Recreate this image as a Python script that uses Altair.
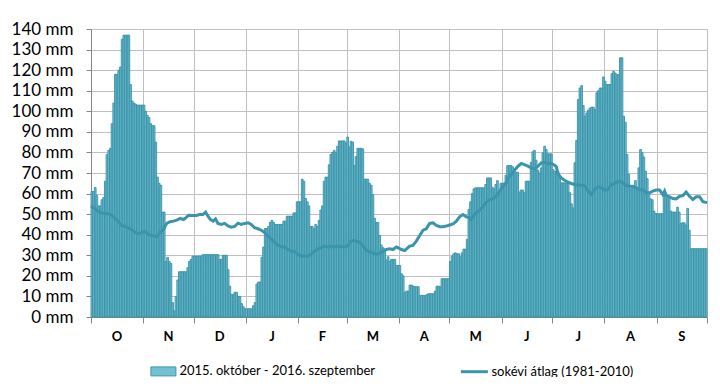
import altair as alt
import pandas as pd

# Daily values (mm), October 2015 - September 2016
oct_15 = [61, 61, 63, 59, 54, 54, 57, 58, 66, 79, 81, 82, 94, 104, 118, 118, 120, 121.5, 135, 137,
          137, 137, 137, 113, 105, 104, 103.5, 103, 103, 103, 103]
nov_15 = [103, 100, 98, 97, 94, 93, 93, 85, 68, 65, 64, 51, 51, 27, 29, 27, 26, 7, 3, 10,
          18, 22, 22, 22, 22, 22, 24, 27, 28, 29.6]
dec_15 = [29.6, 29.6, 29.6, 29.6, 29.6, 30.3, 30.3, 30.3, 30.3, 30.3, 30.3, 30.3, 30.3, 30.3, 30.3,
          28, 28, 30, 30, 30, 23, 15, 11, 11, 12, 12, 10, 10, 6.5, 5, 4]
jan_16 = [4, 4, 4, 4, 5.5, 7, 16, 17, 17, 29, 34, 43, 43, 44, 46, 47, 46, 45, 45, 45,
          45, 45, 46.6, 46.6, 49, 49, 49, 49, 50.6, 50.6, 56]
feb_16 = [56, 56, 67, 66, 57.6, 56, 54, 44, 44, 43, 45, 44, 47, 52, 54, 66, 68, 68, 74, 79,
          80, 81, 80, 83, 85.6, 85.6, 85.6, 85.6, 84.6]
mar_16 = [87.5, 82.7, 85.4, 85, 73.6, 78, 82, 82, 82, 81.7, 67, 67, 67, 65, 64, 59.5, 48, 46, 46, 39.6,
          35, 33.7, 33, 27.7, 29.3, 27, 28, 28, 28, 25, 25]
apr_16 = [25, 21, 20, 12, 12.6, 12.6, 15.5, 15.5, 15, 14.7, 14.7, 14.7, 10.5, 10.5, 10.5, 10.5, 10.8,
          11.3, 11.3, 11.3, 11.3, 12.6, 15, 15, 14.7, 18.6, 18.6, 18.6, 18.6, 18.6]
may_16 = [27, 29.6, 30.7, 31.2, 30.7, 30.7, 29.3, 31.2, 33, 33, 37.7, 52.3, 56, 60, 62.3, 62.8, 62.8,
          62.8, 62.8, 62.8, 62.8, 64.4, 67.6, 67.6, 67.6, 63, 62.3, 64.4, 66.3, 60.4, 65]
jun_16 = [65, 65.2, 68.8, 73.6, 73.6, 73.6, 73, 72, 70.4, 70.4, 60.7, 61.7, 61.7, 60.4, 66, 66, 66,
          75.2, 80.3, 81, 76.2, 71.4, 70, 72.5, 79.8, 83, 81.4, 79.3, 79.3, 79.3]
jul_16 = [71.7, 70.9, 70.9, 70.9, 67.6, 65.2, 65.2, 65.2, 65.2, 65.2, 60.4, 55, 53, 75, 85.8, 105.7,
          111.3, 112.5, 102.8, 97.6, 99.2, 100.5, 101.6, 102, 102, 100.8, 109, 110, 111.3, 111.3, 116.7]
aug_16 = [114.6, 113, 113, 113, 118.3, 119.4, 118.6, 117.8, 117.8, 126, 126, 97.6, 94.7, 79, 69.3,
          62.3, 63.6, 63.6, 66.3, 62, 72.5, 81.4, 80, 77.8, 70.9, 67.2, 60, 57.4, 57, 51.5, 50.3]
sep_16 = [50.2, 50.2, 50.2, 50.2, 59.5, 59, 59, 58.7, 51.5, 51, 51, 51, 53.4, 51, 45.5, 45.8, 45.8,
          44.7, 52.8, 42.2, 33.2, 33.2, 33.2, 33.2, 33.2, 33.2, 33.2, 33.2, 33.2, 33.2]

# Long-term average (1981-2010), read at day positions
avg_day = [0, 2, 4, 6, 9, 12, 14, 16, 18, 20, 22, 24, 26, 28, 30, 32, 34, 36, 38, 39, 41, 43, 45, 47,
           49, 51, 53, 55, 56, 58,
           60.6, 62.6, 64.5, 66.5, 68.1, 69.5, 70.9, 72.5, 74, 75.4, 77.4, 79.4, 81.4, 83.4, 85.3, 87.3,
           89.3, 91.3, 93.3, 95.2, 97.2, 99.2, 101.2, 103.2, 105.1, 107.1, 109.1, 111.1, 113.1, 115,
           117, 119, 121, 123,
           125, 127, 128.9, 130.9, 132.9, 134.9, 136.9, 138.8, 140.8, 142.8, 144.8, 146.8, 148.7, 150.7,
           152.7, 153.7, 155.7, 157.6, 159.6, 161.6, 163.6, 165.6, 167.5, 169.5, 171.5, 173.5, 175.5,
           177.4, 179.4, 181.4, 182.4, 184.4, 186.4,
           189.3, 191.3, 193.3, 195.3, 197.3, 199.2, 201.2, 203.2, 205.2, 207.2, 209.1, 211.1, 213.1,
           215.1, 217.1, 219, 221, 223, 225, 226, 227, 228.9, 230.9, 232.9, 234.9, 236.9, 238.8, 240.8,
           242.8, 244.8, 246.8,
           247.7, 249.7, 251.7, 253.7, 255.7, 257.6, 259.6, 261.6, 263.6, 265.6, 267.5, 269.5, 271.5,
           273.5, 275.5, 276.5, 277.4, 279.4, 281.4, 283.4, 285.4, 287.3, 289.3, 291.3, 293.3, 295.3,
           297.2, 299.2, 301.2, 303.2, 305.2, 307.2, 309.1,
           310.1, 312.1, 314, 316, 318, 320, 322, 323.9, 325.9, 327.9, 329.9, 331.9, 333.8, 335.8,
           337.8, 339.8, 340.8, 341.8, 343.7, 345.7, 347.7, 349.7, 351.7, 353.6, 355.6, 357.6, 359.6,
           361.6, 363.6, 366]
avg_val = [54, 53, 51.5, 50.6, 50.3, 49.8, 48.2, 46.6, 44.5, 44.2, 43.4, 42.5, 41.3, 40.5, 41, 41.7,
           40.1, 39.6, 39.3, 39, 41, 42.5, 45.5, 46.3, 46.6, 47.1, 47.9, 47.4, 48, 49.5,
           49.4, 49.4, 49.8, 49.8, 51, 49, 47.4, 46.6, 47.7, 45.5, 45, 45.5, 44.3, 43.7, 44, 45.6,
           45, 45.5, 45.8, 45, 43.4, 42.9, 42.2, 41, 39.3, 38, 36.4, 34.8, 34.1, 34,
           32.8, 32, 32, 30.4,
           29.6, 29.6, 29.6, 30.7, 32, 33.2, 33.7, 34.5, 34.1, 34.5, 34.1, 34.5, 34.1, 34.1,
           34.5, 36.4, 37.2, 36.9, 36.4, 34.5, 32.5, 31.6, 31.2, 30.4, 31, 32, 32.8,
           33.2, 32.8, 34, 33.7, 32.8, 32.3,
           34.5, 34.8, 36.9, 39.6, 42.2, 42.9, 45.5, 45.8, 44.5, 43.9, 43.9, 44.2, 44.7,
           45.2, 46.6, 48.7, 49.8, 48.7, 48.2, 47.4, 49, 50.6, 51.9, 53.6, 55.8, 57.1, 57.4, 58.7,
           61.2, 63.6, 65.2,
           67.6, 69.3, 71.4, 73.3, 74.6, 74.1, 73.3, 72.5, 72, 73.3, 74.9, 75.2, 74.6,
           74.6, 73.8, 73, 69.7, 67.6, 66.5, 65.5, 64.9, 64.4, 64.1, 64.1, 63.9, 61.2,
           59.5, 62, 63.3, 62.8, 61.7, 62, 64.4,
           64.4, 65.5, 66, 65.2, 63.9, 63.6, 63.6, 62.8, 62, 61.7, 60.4, 60.4, 61.2, 61.7,
           61.7, 59.5, 61.2, 59, 58.4, 57.6, 57.4, 58.7, 59, 60.7, 58.7, 57.1, 58.4,
           58.4, 56.1, 55.6]

month_start = [0, 31, 61, 92, 123, 152, 183, 213, 244, 274, 305, 336, 366]
month_labels = ["O", "N", "D", "J", "F", "M", "A", "M", "J", "J", "A", "S"]
y_ticks = list(range(0, 141, 10))

bar_label = "2015. október - 2016. szeptember"
line_label = "sokévi átlag (1981-2010)"

values = oct_15 + nov_15 + dec_15 + jan_16 + feb_16 + mar_16 + apr_16 + may_16 + jun_16 + jul_16 + aug_16 + sep_16
df = pd.DataFrame({"day": list(range(len(values))), "mm": values})
df["day_end"] = df["day"] + 1
df["s1"] = bar_label

df_avg = pd.DataFrame({"day": avg_day, "mm": avg_val})
df_avg["s2"] = line_label

df_months = pd.DataFrame({
    "mid": [(month_start[i] + month_start[i + 1]) / 2 for i in range(12)],
    "label": month_labels,
})

FONT = "Lato"
xscale = alt.Scale(domain=[0, 366], nice=False, zero=False)
yscale = alt.Scale(domain=[0, 140], nice=False)

x_axis = alt.Axis(values=month_start, labels=False, title=None, grid=True,
                  gridColor="#c0c0c0", tickSize=6, tickColor="#868686",
                  domainColor="#868686")
y_axis = alt.Axis(values=y_ticks, labelExpr="datum.value + ' mm'",
                  title=None, grid=True, gridColor="#c0c0c0", tickSize=5,
                  tickColor="#868686", domainColor="#868686", labelPadding=13,
                  labelOverlap=False,
                  labelFont=FONT, labelFontSize=17, labelColor="#000000")

bars = alt.Chart(df).mark_rect(stroke="#3891a6", strokeWidth=0.9).encode(
    x=alt.X("day:Q", scale=xscale, axis=x_axis),
    x2="day_end:Q",
    y=alt.Y("mm:Q", scale=yscale, axis=y_axis),
    y2=alt.datum(0),
    fill=alt.Fill("s1:N", scale=alt.Scale(domain=[bar_label], range=["#72c0d2"]),
                  legend=alt.Legend(title=None, orient="none", legendX=59.4, legendY=329.4,
                                    direction="horizontal", padding=0, labelLimit=400,
                                    symbolType="M-1,-0.36H1V0.36H-1Z", symbolSize=625,
                                    symbolFillColor="#80c4d4",
                                    symbolStrokeColor="#3f97ad", symbolStrokeWidth=1,
                                    labelFont=FONT, labelFontSize=13, labelColor="#000000",
                                    labelOffset=3)),
)

line = alt.Chart(df_avg).mark_line(strokeWidth=3).encode(
    x=alt.X("day:Q", scale=xscale, axis=x_axis),
    y=alt.Y("mm:Q", scale=yscale, axis=y_axis),
    stroke=alt.Stroke("s2:N", scale=alt.Scale(domain=[line_label], range=["#3a94ab"]),
                      legend=alt.Legend(title=None, orient="none", legendX=368.4, legendY=327.7,
                                        direction="horizontal", padding=0, labelLimit=400,
                                        symbolType="stroke", symbolSize=729,
                                        symbolStrokeWidth=3,
                                        labelFont=FONT, labelFontSize=13, labelColor="#000000",
                                        labelOffset=2)),
)

months = alt.Chart(df_months).mark_text(font=FONT, fontSize=13, fontWeight="bold",
                                        baseline="middle", color="#000000").encode(
    x=alt.X("mid:Q", scale=xscale, axis=x_axis),
    y=alt.value(307.7),
    text="label:N",
)

chart = alt.layer(bars, line, months).properties(
    width=616, height=288,
    autosize=alt.AutoSizeParams(type="none"),
    padding={"left": 83, "top": 21, "right": 5, "bottom": 60},
    background="white",
).configure_view(stroke=None)

chart.save("out.html", embed_options={"renderer": "svg", "actions": False})
